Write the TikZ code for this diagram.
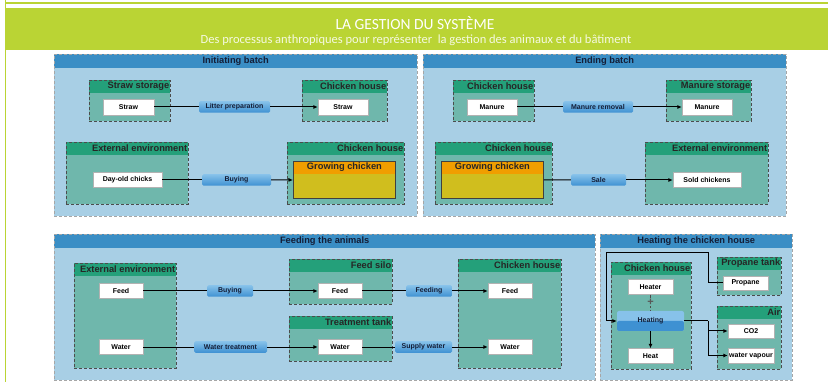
\documentclass[tikz,border=0pt]{standalone}
\usepackage{fontspec}
\setmainfont{Liberation Sans}
\newfontfamily\titlefont{Carlito}
\usetikzlibrary{arrows.meta}
\definecolor{lime}{RGB}{186,212,52}
\definecolor{panelbg}{RGB}{168,207,229}
\definecolor{panelhead}{RGB}{58,142,197}
\definecolor{groupbg}{RGB}{111,183,172}
\definecolor{grouphead}{RGB}{36,160,122}
\definecolor{pillblue}{RGB}{62,145,210}
\definecolor{pilllight}{RGB}{135,194,234}
\definecolor{chickhead}{RGB}{240,158,0}
\definecolor{chickbody}{RGB}{208,190,30}
\definecolor{ink}{RGB}{20,30,55}

\begin{document}
\begin{tikzpicture}[x=1pt,y=-1pt,
    panel/.style={rectangle,anchor=north west,inner sep=0,fill=panelbg,draw=gray!70,densely dashed,line width=0.4pt,
      path picture={\fill[panelhead] (path picture bounding box.north west) rectangle ([yshift=-14pt]path picture bounding box.north east);}},
    paneltitle/.style={font=\fontsize{9.3}{10}\selectfont\bfseries,text=ink,inner sep=0},
    group/.style={rectangle,anchor=north west,inner sep=0,fill=groupbg,draw=gray!60!black,densely dashed,line width=0.4pt,
      path picture={\fill[grouphead] (path picture bounding box.north west) rectangle ([yshift=-13pt]path picture bounding box.north east);}},
    grouptitle/.style={font=\fontsize{9.3}{10}\selectfont\bfseries,text=black!85,anchor=east,inner sep=0},
    item/.style={rectangle,draw=gray!60,fill=white,inner sep=0,font=\fontsize{7}{8}\selectfont\bfseries},
    pill/.style={rectangle,rounded corners=1.5pt,inner sep=0,minimum height=11.5pt,top color=pilllight,bottom color=pillblue,
      font=\fontsize{7}{8}\selectfont\bfseries,text=ink},
    heatpill/.style={rectangle,rounded corners=2pt,inner sep=0,fill=pilllight,font=\fontsize{7}{8}\selectfont\bfseries,text=ink,
      path picture={\fill[pillblue] (path picture bounding box.west) rectangle (path picture bounding box.south east);}},
    chick/.style={rectangle,anchor=north west,inner sep=0,fill=chickbody,draw=black!75,line width=0.9pt,minimum width=102pt,minimum height=37pt,
      path picture={\fill[chickhead] (path picture bounding box.north west) rectangle ([yshift=-13pt]path picture bounding box.north east);}},
    conn/.style={line width=1pt,black},
    arr/.style={conn,-{Latex[length=4.5pt,width=4pt]}}]
  \useasboundingbox (0,0) rectangle (828,382);
  % frame and heading
  \fill[lime] (5,8) rectangle (828,50);
  \draw[lime,line width=1.5pt] (5.5,0) -- (5.5,382);
  \draw[lime,line width=1.2pt] (5,3) -- (828,3);
  \node[font=\titlefont\fontsize{15.5}{17}\selectfont,white] (title) at (415,23.5) {LA GESTION DU SYSTÈME};
  \node[font=\titlefont\fontsize{12.5}{14}\selectfont,white!85!lime] (subtitle) at (416,40) {Des processus anthropiques pour représenter\ \ la gestion des animaux et du bâtiment};
  % panels
  \foreach \n/\x/\y/\w/\h/\t in {pA/54/54/363/162/Initiating batch,pB/423/54/363/162/Ending batch,
      pC/54/234/541/146/Feeding the animals,pD/600/234/192/146/Heating the chicken house}{
    \node[panel,minimum width=\w pt,minimum height=\h pt] (\n) at (\x,\y) {};
    \node[paneltitle] (\n-t) at ([yshift=-7pt]\n.north) {\t};
  }
  % compartments
  \foreach \n/\x/\y/\w/\h/\t in {gA1/89/80/81/41/Straw storage,gA2/302/80/85/41/Chicken house,
      gA3/66/142/122/62/External environment,gA4/287/142/117/62/Chicken house,
      gB1/453/80/81/41/Chicken house,gB2/666/80/85/41/Manure storage,
      gB3/435/142/117/62/Chicken house,gB4/645/142/123/62/External environment,
      gC1/74/263/102/105/External environment,gC2/289/259/103/45/Feed silo,
      gC3/289/316/103/45/Treatment tank,gC4/458/259/103/109/Chicken house,
      gD1/611/262/80/107/Chicken house,gD2/717/257/64/38/Propane tank,gD3/717/306/64/63/Air}{
    \node[group,minimum width=\w pt,minimum height=\h pt] (\n) at (\x,\y) {};
    \node[grouptitle] (\n-t) at ([xshift=-1pt,yshift=-6.5pt]\n.north east) {\t};
  }
  \foreach \n/\x in {gcA/293,gcB/441}{
    \node[chick] (\n) at (\x,161) {};
    \node[font=\fontsize{9.3}{10}\selectfont\bfseries,text=black!85] (\n-t) at ([yshift=-6.5pt]\n.north) {Growing chicken};
  }
  % stocks
  \foreach \n/\x/\y/\w/\h/\t in {iStrawA/128.5/107/51/16/Straw,iStrawB/343/107/50/16/Straw,
      iChicks/127.5/180/69/15/Day-old chicks,iManureA/492/107/50/16/Manure,iManureB/707/107/50/16/Manure,
      iSold/707/180/68/15/Sold chickens,iFeedA/121/291/44/15/Feed,iWaterA/121/347/44/15/Water,
      iFeedB/340/291/44/15/Feed,iWaterB/340/347/44/15/Water,iFeedC/510/291/44/15/Feed,iWaterC/510/347/44/15/Water,
      iHeater/650.5/287/45/15/Heater,iHeat/650.5/356/45/15/Heat,iPropane/745.5/283/45/14/Propane,
      iCO2/751/331/46/14/CO2,iVapour/751/355.5/46/15/water vapour}
    \node[item,minimum width=\w pt,minimum height=\h pt] (\n) at (\x,\y) {\t};
  % processes
  \foreach \n/\x/\y/\w/\t in {litter/234.5/107/71/Litter preparation,buyA/236.5/180/69/Buying,
      removal/598/107/70/Manure removal,sale/598.5/180/55/Sale,buyC/230/291/46/Buying,
      treat/230.5/347/73/Water treatment,feeding/429/291/46/Feeding,supply/423.5/347/57/Supply water}
    \node[pill,minimum width=\w pt] (\n) at (\x,\y) {\t};
  \node[heatpill,minimum width=67pt,minimum height=20pt] (heating) at (650.5,321) {Heating};
  % flows
  \foreach \a/\p/\b in {iStrawA/litter/iStrawB,iChicks/buyA/gcA,iManureA/removal/iManureB,gcB/sale/iSold,
      iFeedA/buyC/iFeedB,iWaterA/treat/iWaterB,iFeedB/feeding/iFeedC,iWaterB/supply/iWaterC}{
    \draw[conn] (\a.east) -- (\p.west);
    \draw[arr] (\p.east) -- (\b.west);
  }
  \coordinate (loopR) at (708,253);
  \coordinate (loopL) at (606,253);
  \coordinate (split) at (708,321);
  \draw[arr] (iPropane.west) -| (loopR) -- (loopL) |- (heating.west);
  \draw[conn] (heating.east) -- (split);
  \draw[arr] (split) |- (iCO2.west);
  \draw[arr] (split) |- (iVapour.west);
  \draw[arr] (heating.south) -- (iHeat.north);
  \draw[black!70,densely dashed,line width=0.7pt] (iHeater.south) -- node[fill=groupbg,inner sep=0pt,font=\fontsize{11}{11}\selectfont\bfseries,text=black!65] (plus) {+} (heating.north);
\end{tikzpicture}
\end{document}
